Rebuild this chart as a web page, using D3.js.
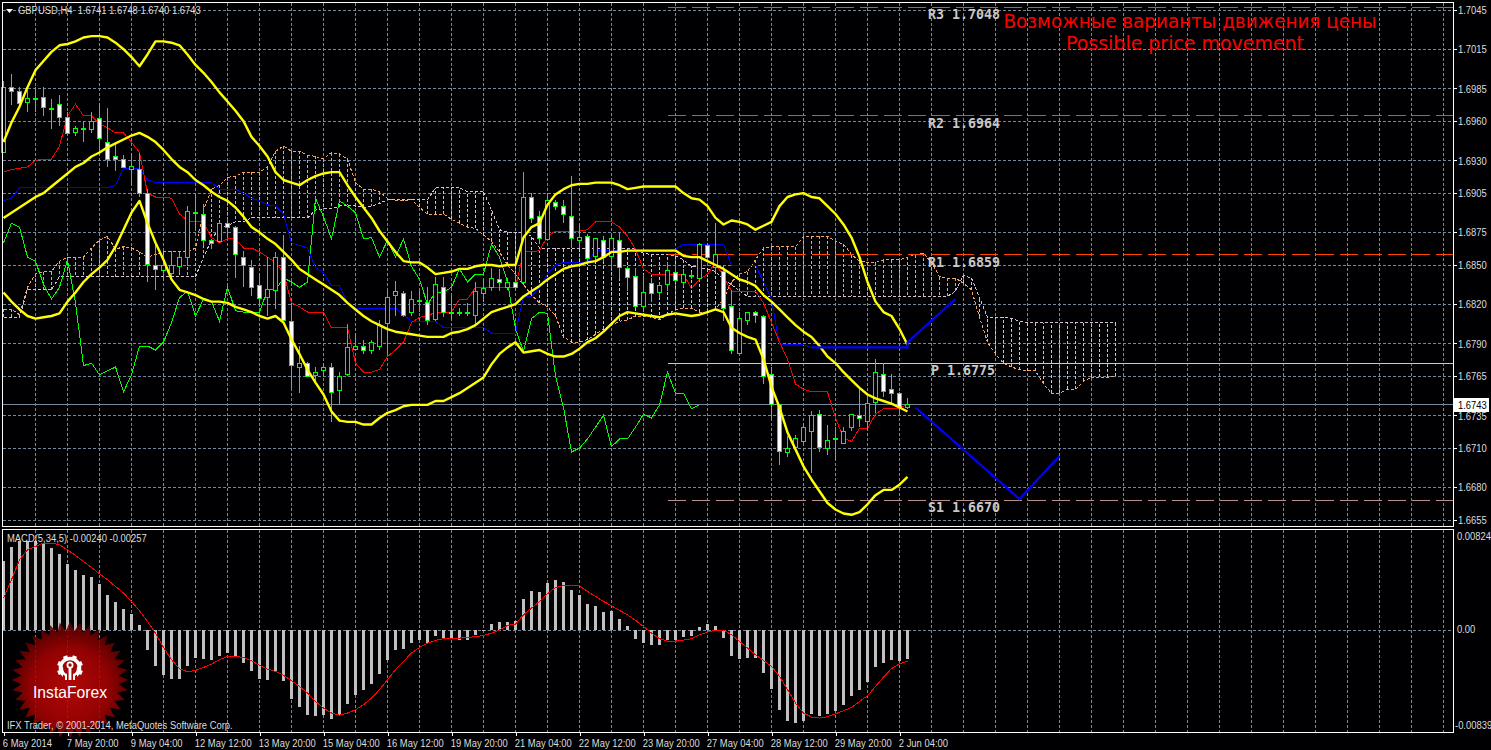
<!DOCTYPE html>
<html><head><meta charset="utf-8">
<style>html,body{margin:0;padding:0;background:#000;overflow:hidden}svg{display:block}text{font-family:"Liberation Sans",Arial,sans-serif}</style>
<script src="https://cdn.jsdelivr.net/npm/d3@7"></script>
</head><body><div id="c"></div>
<script>
// Prices are in pips (1.6741 = 16741), MACD values in 0.00001 units.
const open=[16936,16986,16983,16974,16977,16978,16970,16973,16963,16951,
16954,16954,16962,16944,16933,16931,16923,16923,16905,16850,
16846,16844,16849,16856,16890,16889,16869,16868,16882,16879,
16856,16848,16834,16825,16831,16856,16807,16772,16775,16766,
16770,16772,16754,16766,16786,16788,16785,16788,16805,16827,
16828,16814,16823,16821,16808,16833,16814,16814,16814,16812,
16828,16833,16839,16833,16837,16837,16902,16887,16869,16898,
16895,16887,16869,16872,16856,16869,16856,16869,16847,16841,
16818,16836,16829,16835,16844,16837,16842,16840,16865,16848,
16845,16818,16782,16808,16814,16811,16766,16743,16707,16710,
16715,16723,16736,16710,16717,16714,16726,16735,16730,16745,
16766,16755,16752,16741];
const high=[16991,16996,16986,16984,16986,16986,16977,16980,16967,16956,
16960,16967,16974,16970,16944,16934,16936,16936,16908,16867,
16858,16861,16860,16895,16904,16897,16870,16883,16886,16880,
16861,16854,16844,16856,16860,16873,16821,16788,16776,16772,
16775,16775,16768,16805,16798,16793,16793,16808,16831,16838,
16830,16830,16830,16833,16841,16841,16826,16817,16821,16837,
16839,16848,16847,16840,16843,16921,16905,16891,16905,16900,
16900,16918,16881,16874,16871,16872,16874,16875,16849,16848,
16843,16840,16837,16852,16849,16847,16845,16867,16867,16882,
16849,16831,16814,16814,16815,16812,16772,16743,16719,16720,
16729,16738,16739,16728,16726,16726,16736,16757,16751,16778,
16775,16767,16753,16748];
const low=[16936,16972,16971,16967,16967,16964,16954,16956,16950,16949,
16944,16951,16933,16925,16922,16925,16911,16902,16837,16831,
16838,16839,16844,16849,16876,16865,16862,16867,16871,16840,
16833,16826,16818,16811,16816,16807,16756,16752,16764,16760,
16764,16730,16743,16765,16785,16782,16782,16785,16783,16811,
16810,16811,16814,16804,16807,16810,16808,16811,16811,16803,
16822,16830,16830,16831,16830,16836,16882,16866,16869,16892,
16882,16863,16863,16853,16852,16852,16847,16839,16830,16817,
16814,16822,16825,16830,16836,16833,16839,16837,16856,16845,
16807,16782,16782,16804,16806,16759,16732,16697,16703,16709,
16713,16691,16707,16705,16701,16713,16723,16726,16724,16737,
16749,16743,16737,16740];
const close=[16986,16983,16974,16977,16977,16970,16970,16963,16951,16954,
16954,16960,16947,16931,16931,16925,16925,16905,16851,16847,
16850,16850,16856,16891,16890,16869,16867,16882,16879,16858,
16850,16833,16824,16831,16856,16808,16773,16775,16765,16768,
16772,16753,16765,16787,16788,16785,16791,16804,16825,16830,
16811,16824,16823,16807,16835,16814,16814,16814,16814,16830,
16832,16840,16837,16837,16833,16902,16886,16870,16899,16895,
16889,16870,16871,16855,16870,16856,16870,16848,16840,16818,
16829,16828,16834,16846,16838,16843,16842,16866,16856,16858,
16817,16784,16809,16814,16812,16765,16743,16707,16710,16717,
16726,16735,16711,16716,16717,16723,16736,16733,16744,16768,
16753,16752,16741,16743];
const bbUpper=[16944,16959,16971,16986,16999,17006,17013,17018,17019,17021,
17024,17025,17025,17024,17020,17015,17009,17002,17011,17021,
17021,17020,17018,17011,17003,16997,16990,16982,16975,16968,
16960,16948,16941,16933,16921,16915,16913,16911,16915,16918,
16920,16921,16921,16911,16902,16894,16886,16876,16868,16860,
16853,16852,16852,16848,16843,16844,16845,16847,16847,16849,
16850,16850,16849,16850,16850,16871,16879,16882,16896,16904,
16908,16911,16912,16912,16913,16913,16913,16911,16908,16909,
16910,16910,16910,16910,16910,16905,16901,16900,16895,16886,
16881,16884,16883,16881,16877,16880,16883,16895,16902,16904,
16905,16902,16901,16895,16889,16881,16871,16856,16837,16822,
16814,16811,16801,16789];
const bbMiddle=[16886,16890,16894,16898,16902,16905,16910,16915,16920,16925,
16928,16933,16936,16940,16943,16946,16949,16951,16948,16944,
16938,16931,16925,16921,16915,16911,16906,16902,16899,16894,
16887,16879,16875,16870,16866,16860,16854,16847,16843,16839,
16835,16831,16827,16821,16816,16811,16807,16804,16801,16799,
16798,16797,16796,16795,16795,16795,16798,16799,16801,16804,
16809,16814,16816,16818,16820,16826,16830,16834,16839,16843,
16847,16849,16850,16852,16853,16856,16860,16860,16861,16861,
16861,16861,16861,16861,16861,16857,16856,16856,16853,16850,
16847,16843,16839,16837,16834,16827,16822,16816,16810,16804,
16799,16795,16788,16780,16775,16768,16762,16756,16751,16748,
16746,16744,16741,16738];
const bbLower=[16829,16822,16816,16811,16809,16810,16811,16813,16822,16829,
16837,16843,16848,16854,16864,16877,16890,16899,16882,16867,
16854,16839,16831,16829,16827,16824,16822,16822,16821,16818,
16816,16814,16811,16809,16811,16806,16793,16782,16770,16760,
16751,16738,16731,16730,16730,16728,16728,16733,16737,16739,
16742,16743,16743,16743,16746,16746,16749,16752,16756,16760,
16764,16774,16782,16787,16791,16783,16784,16785,16782,16780,
16780,16782,16786,16791,16794,16799,16805,16811,16814,16813,
16812,16811,16810,16812,16813,16812,16811,16812,16814,16816,
16814,16802,16798,16795,16793,16778,16757,16741,16722,16709,
16696,16686,16677,16668,16663,16660,16659,16661,16667,16674,
16678,16678,16682,16688];
const tenkan=[16921,16923,16924,16925,16930,16931,16931,16941,16964,16973,
16964,16964,16958,16955,16951,16951,16944,16936,16905,16902,
16902,16901,16889,16884,16883,16883,16871,16867,16870,16870,
16863,16863,16860,16856,16852,16844,16821,16818,16814,16814,
16814,16802,16802,16802,16775,16768,16768,16770,16780,16785,
16791,16806,16810,16811,16814,16814,16814,16824,16824,16833,
16833,16833,16833,16833,16833,16860,16860,16861,16872,16876,
16876,16876,16876,16877,16883,16883,16883,16879,16872,16862,
16847,16843,16843,16843,16843,16843,16832,16839,16843,16852,
16841,16830,16830,16830,16830,16821,16806,16791,16778,16759,
16755,16753,16753,16753,16733,16718,16715,16725,16725,16736,
16740,16740,16740,16744];
const kijun=[16899,16901,16909,16909,16909,16909,16909,16909,16909,16909,
16909,16909,16909,16909,16911,16924,16924,16924,16915,16913,
16913,16913,16913,16913,16913,16913,16913,16908,16908,16908,
16905,16901,16899,16896,16895,16889,16867,16865,16863,16848,
16844,16834,16834,16821,16817,16817,16817,16817,16817,16817,
16812,16807,16807,16807,16807,16802,16802,16802,16802,16802,
16802,16798,16798,16798,16798,16826,16826,16833,16843,16850,
16852,16852,16852,16852,16861,16861,16861,16861,16861,16861,
16861,16861,16861,16861,16862,16866,16866,16866,16866,16866,
16866,16850,16850,16850,16850,16837,16824,16789,16789,16789,
16789,16787,16787,16787,16787,16787,16787,16787,16787,16787,
16787,16787,16787,16787];
const chikou=[16867,16882,16879,16856,16853,16835,16824,16833,16854,16821,
16773,16775,16766,16769,16772,16753,16766,16788,16788,16785,
16791,16806,16825,16830,16811,16824,16822,16807,16833,16815,
16814,16814,16814,16831,16831,16840,16837,16833,16837,16901,
16887,16870,16899,16895,16890,16870,16871,16856,16869,16856,
16870,16849,16839,16820,16829,16829,16833,16847,16837,16843,
16843,16866,16856,16837,16801,16784,16809,16814,16813,16765,
16741,16707,16710,16717,16726,16735,16711,16717,16717,16726,
16736,16733,16743,16768,16752,16752,16740,16743];
const spanA=[16816,16816,16812,16833,16843,16845,16845,16853,16856,16856,
16856,16863,16869,16872,16862,16864,16863,16860,16856,16858,
16860,16860,16860,16860,16863,16892,16908,16911,16917,16918,
16921,16921,16921,16925,16937,16941,16937,16937,16934,16933,
16931,16936,16935,16931,16913,16908,16908,16906,16901,16899,
16899,16900,16894,16889,16889,16889,16885,16882,16879,16878,
16873,16868,16860,16850,16843,16835,16827,16821,16818,16811,
16795,16791,16791,16793,16797,16801,16804,16807,16808,16811,
16811,16810,16808,16812,16816,16817,16817,16814,16814,16816,
16824,16837,16843,16845,16854,16863,16864,16864,16864,16864,
16872,16872,16872,16872,16868,16866,16858,16853,16852,16852,
16854,16854,16854,16856,16858,16859,16852,16841,16840,16840,
16836,16831,16810,16791,16782,16775,16772,16770,16769,16769,
16759,16752,16752,16755,16755,16761,16764,16764,16764,16765];
const spanB=[16810,16810,16810,16831,16831,16831,16831,16841,16841,16841,
16841,16841,16841,16841,16841,16841,16841,16841,16841,16841,
16841,16841,16841,16841,16841,16856,16869,16879,16880,16883,
16883,16886,16886,16886,16886,16886,16886,16886,16886,16892,
16893,16893,16895,16896,16895,16894,16895,16897,16900,16900,
16900,16900,16900,16900,16909,16909,16909,16909,16906,16906,
16906,16892,16877,16875,16875,16875,16872,16863,16863,16863,
16863,16863,16863,16863,16863,16863,16863,16863,16863,16862,
16859,16858,16858,16858,16857,16854,16849,16848,16847,16845,
16839,16835,16830,16826,16826,16826,16826,16826,16826,16826,
16826,16826,16826,16826,16826,16826,16826,16826,16826,16826,
16826,16826,16826,16826,16826,16826,16826,16826,16826,16830,
16842,16840,16825,16810,16810,16810,16809,16807,16806,16806,
16806,16806,16806,16806,16806,16806,16806,16806,16806,16806];
const macdBars=[565,683,730,735,735,711,675,626,543,497,
456,439,381,291,230,176,134,44,-162,-294,
-368,-401,-401,-294,-230,-239,-244,-211,-189,-222,
-269,-335,-401,-409,-346,-423,-565,-637,-697,-711,
-697,-730,-697,-606,-532,-491,-442,-359,-244,-162,
-154,-104,-82,-104,-47,-66,-71,-80,-80,-41,
-5,52,66,66,77,258,324,316,390,414,
398,332,291,217,200,151,159,93,36,-71,
-104,-121,-121,-80,-80,-55,-47,25,52,36,
-63,-211,-236,-228,-230,-351,-483,-656,-746,-763,
-746,-689,-705,-689,-664,-615,-541,-491,-428,-302,
-269,-244,-252,-240];
const macdSignal=[263,414,579,661,689,716,716,702,661,615,
565,516,464,414,359,305,236,159,71,-25,
-143,-244,-318,-343,-332,-307,-280,-244,-217,-217,
-225,-252,-291,-321,-340,-373,-417,-464,-519,-587,
-642,-683,-700,-683,-656,-615,-560,-491,-409,-327,
-258,-189,-143,-107,-85,-71,-66,-66,-60,-55,
-44,-25,0,38,49,126,181,236,299,351,
365,370,365,318,277,236,200,162,126,80,
30,-25,-71,-91,-91,-82,-71,-38,-16,0,
0,-38,-93,-148,-203,-250,-299,-381,-491,-601,
-683,-716,-724,-713,-689,-664,-637,-587,-541,-464,
-387,-318,-277,-257];
const priceTicks=[17045,17015,16985,16960,16930,16905,16875,16850,16820,16790,16765,16735,16710,16680,16655];
const timeLabels=["6 May 2014","7 May 20:00","9 May 04:00","12 May 12:00","13 May 20:00","15 May 04:00","16 May 12:00","19 May 20:00","21 May 04:00","22 May 12:00","23 May 20:00","27 May 04:00","28 May 12:00","29 May 20:00","2 Jun 04:00"];
const levelNames=["R3 1.7048","R2 1.6964","R1 1.6859","P 1.6775","S1 1.6670"];
const levelPrices=[17047,16964,16858,16775,16670];
const levelColors=["#ff4500","#ff4500","#ff4500","#ffd700","#bc8f8f"];
const forecastUpIdx=[101,113,113,119], forecastUpVal=[16787,16787,16791,16824];
const forecastDownIdx=[114,127,132], forecastDownVal=[16741,16671,16704];
const lastPrice=16743;

const W=1491,H=750;
const svg=d3.select('#c').append('svg').attr('width',W).attr('height',H);
svg.append('rect').attr('width',W).attr('height',H).attr('fill','#000003');
const x=d3.scaleLinear().domain([0,180]).range([3.5,1443.5]);
const y=d3.scaleLinear().domain([16655,17045]).range([520,10]);
const ym=d3.scaleLinear().domain([-839,824]).range([732,530]);
const snap=v=>Math.round(v-.5)+.5;
const GRID='#778899', TXT='#dcdcdc', FS='11.5px';

// grid
const grid=svg.append('g').attr('stroke',GRID).attr('stroke-dasharray','3,2').attr('shape-rendering','crispEdges').attr('fill','none');
grid.selectAll('.v').data(d3.range(0,181,4).slice(1)).join('line').attr('x1',d=>x(d)).attr('x2',d=>x(d)).attr('y1',3).attr('y2',526);
grid.selectAll('.m').data(d3.range(0,181,4).slice(1)).join('line').attr('x1',d=>x(d)).attr('x2',d=>x(d)).attr('y1',530).attr('y2',732);
grid.selectAll('.h').data(priceTicks).join('line').attr('x1',3).attr('x2',1453).attr('y1',d=>snap(y(d))).attr('y2',d=>snap(y(d)));
grid.append('line').attr('x1',3).attr('x2',1453).attr('y1',snap(ym(0))).attr('y2',snap(ym(0)));

// cloud
const cloud=svg.append('g').attr('fill','none').attr('stroke-width',1).attr('shape-rendering','crispEdges');
cloud.selectAll('line').data(d3.range(spanA.length)).join('line')
 .attr('x1',i=>x(i)).attr('x2',i=>x(i)).attr('y1',i=>y(spanA[i])).attr('y2',i=>y(spanB[i]))
 .attr('stroke',i=>spanA[i]>=spanB[i]?'#f4a460':'#d8bfd8').attr('stroke-dasharray','3,2');
const ln=(s)=>d3.line().x((d,i)=>x(i)).y(d=>y(d))(s);
svg.append('path').attr('d',ln(spanA)).attr('fill','none').attr('stroke','#f4a460').attr('stroke-dasharray','3,2').attr('shape-rendering','crispEdges');
svg.append('path').attr('d',ln(spanB)).attr('fill','none').attr('stroke','#d8bfd8').attr('stroke-dasharray','3,2').attr('shape-rendering','crispEdges');

// levels
const lev=svg.append('g').attr('shape-rendering','crispEdges');
levelPrices.forEach((p,k)=>{
  lev.append('line').attr('x1',x(83)).attr('x2',1453).attr('y1',snap(y(p))).attr('y2',snap(y(p)))
   .attr('stroke',levelColors[k]).attr('stroke-dasharray',k===3?null:'18,6');
});
// current price
svg.append('line').attr('x1',3).attr('x2',1453).attr('y1',snap(y(lastPrice))).attr('y2',snap(y(lastPrice))).attr('stroke',GRID).attr('shape-rendering','crispEdges');

// ichimoku thin lines
[[chikou,'#00ff00'],[kijun,'#0000ff'],[tenkan,'#ff0000']].forEach(([s,c])=>{
  svg.append('path').attr('d',ln(s)).attr('fill','none').attr('stroke',c).attr('stroke-width',1).attr('shape-rendering','crispEdges');
});

// candles
const cg=svg.append('g').attr('shape-rendering','crispEdges').attr('stroke','#00ff00');
const idx=d3.range(open.length);
cg.selectAll('.w').data(idx).join('line').attr('x1',i=>x(i)).attr('x2',i=>x(i)).attr('y1',i=>y(high[i])).attr('y2',i=>y(low[i]));
cg.selectAll('.b').data(idx).join('rect')
 .attr('x',i=>x(i)-2).attr('width',4)
 .attr('y',i=>snap(y(Math.max(open[i],close[i]))))
 .attr('height',i=>Math.max(1,Math.round(Math.abs(y(open[i])-y(close[i])))))
 .attr('fill',i=>close[i]>=open[i]?'#000003':'#ffffff');

// bollinger
[bbUpper,bbMiddle,bbLower].forEach(s=>{
  svg.append('path').attr('d',ln(s)).attr('fill','none').attr('stroke','#ffff00').attr('stroke-width',2.4).attr('stroke-linejoin','round');
});

// forecast
const fl=d3.line().x(d=>x(d[0])).y(d=>y(d[1]));
[d3.zip(forecastUpIdx,forecastUpVal),d3.zip(forecastDownIdx,forecastDownVal)].forEach(s=>{
  svg.append('path').attr('d',fl(s)).attr('fill','none').attr('stroke','#0000ff').attr('stroke-width',2.2);
});

// level labels
const mono=svg.append('g').attr('fill','#c8c8c8').attr('font-weight','bold').style('font-size','13.3px');
const labelX=[928,928,928,931,928];
levelNames.forEach((t,k)=>{
  mono.append('text').attr('x',labelX[k]).attr('y',y(levelPrices[k])+12).style('font-family','"DejaVu Sans Mono",monospace').text(t);
});

// headline
svg.append('text').attr('x',1190).attr('y',28).attr('text-anchor','middle').attr('fill','#ff0000').attr('textLength',373).attr('lengthAdjust','spacingAndGlyphs').style('font-size','20px').style('font-family','"DejaVu Sans"').text('Возможные варианты движения цены');
svg.append('text').attr('x',1185).attr('y',50).attr('text-anchor','middle').attr('fill','#ff0000').attr('textLength',238).attr('lengthAdjust','spacingAndGlyphs').style('font-size','20px').style('font-family','"DejaVu Sans"').text('Possible price movement');

// macd
const mg=svg.append('g');
mg.selectAll('rect').data(macdBars).join('rect').attr('x',(d,i)=>x(i)-1.5).attr('width',3)
 .attr('y',d=>Math.min(ym(d),ym(0))).attr('height',d=>Math.abs(ym(d)-ym(0))).attr('fill','#c0c0c0').attr('shape-rendering','crispEdges');
svg.append('path').attr('d',d3.line().x((d,i)=>x(i)).y(d=>ym(d))(macdSignal)).attr('fill','none').attr('stroke','#ff0000').attr('stroke-width',1).attr('shape-rendering','crispEdges');

// logo, translucent over the pane
const defs=svg.append('defs');
const grad=defs.append('radialGradient').attr('id','lg').attr('cx','50%').attr('cy','56%').attr('r','55%');
grad.append('stop').attr('offset','0').attr('stop-color','#c80808');
grad.append('stop').attr('offset','.6').attr('stop-color','#a60202');
grad.append('stop').attr('offset','1').attr('stop-color','#560000');
const logo=svg.append('g').attr('transform','translate(70,680)');
const spikes=d3.range(72).map(k=>[k*Math.PI/36,k%2?49:58.5]);
logo.append('path').attr('d',d3.lineRadial().curve(d3.curveLinearClosed)(spikes)).attr('fill','url(#lg)').attr('opacity',.88);
const gear=logo.append('g').attr('transform','translate(0,-12)');
d3.range(8).forEach(k=>gear.append('rect').attr('x',-2.2).attr('y',-13).attr('width',4.4).attr('height',5).attr('fill','#fff').attr('transform','rotate('+(k*45+22.5)+')'));
gear.append('circle').attr('r',9.5).attr('fill','none').attr('stroke','#fff').attr('stroke-width',3.6);
gear.append('rect').attr('x',-7).attr('y',5).attr('width',14).attr('height',9).attr('fill','#b00404');
gear.append('circle').attr('cy',-3).attr('r',2.6).attr('fill','none').attr('stroke','#fff').attr('stroke-width',1.8);
gear.append('rect').attr('x',-1.4).attr('y',-1).attr('width',2.8).attr('height',13).attr('fill','#fff');
gear.append('path').attr('d','M-7,-1Q-7,5-3,6V12H-5V8Q-9,6-9,-1Z M7,-1Q7,5,3,6V12H5V8Q9,6,9,-1Z').attr('fill','#fff');
logo.append('text').attr('y',18).attr('text-anchor','middle').attr('fill','#fff').attr('textLength',74).attr('lengthAdjust','spacingAndGlyphs').style('font-size','16.5px').text('InstaForex');

// frames
const fr=svg.append('g').attr('fill','none').attr('stroke','#fff').attr('shape-rendering','crispEdges');
fr.append('path').attr('d','M2.5,2.5H1453.5V526.5H2.5Z');
fr.append('path').attr('d','M2.5,529.5H1453.5V732.5H2.5Z');

// axes
const styleAxis=g=>{g.select('.domain').remove();g.selectAll('line').attr('stroke','#fff').attr('shape-rendering','crispEdges');
  g.selectAll('text').attr('fill',TXT).style('font-size',FS);};
svg.append('g').attr('transform','translate(1453.5,0)')
 .call(d3.axisRight(y).tickValues(priceTicks).tickSize(3).tickPadding(1.5).tickFormat(d=>(d/10000).toFixed(4))).call(styleAxis);
svg.append('g').attr('transform','translate(0,732.5)')
 .call(d3.axisBottom(x).tickValues(timeLabels.map((d,k)=>k*8)).tickSize(3).tickPadding(3).tickFormat(d=>timeLabels[d/8])).call(styleAxis)
 .selectAll('text').attr('text-anchor','start').attr('dx',-1.5);
const macdLabels=[[824,"0.00824",6,1457],[0,"0.00",-1,1457],[-839,"-0.00839",-7,1455]];
macdLabels.forEach(([v,t,o,lx])=>svg.append('text').attr('x',lx).attr('y',ym(v)+o+4).attr('fill',TXT).style('font-size',FS).text(t));

// last price tag
svg.append('rect').attr('x',1454).attr('y',398).attr('width',35).attr('height',14).attr('fill','#fff');
svg.append('text').attr('x',1458).attr('y',409).attr('fill','#000').style('font-size',FS).text((lastPrice/10000).toFixed(4));

// headers
svg.append('path').attr('d','M6,9H13L9.5,13Z').attr('fill','#fff');
svg.append('text').attr('x',18).attr('y',14).attr('fill',TXT).style('font-size',FS).text('GBPUSD,H4\u00a0\u00a01.6741 1.6748 1.6740 1.6743');
svg.append('text').attr('x',7).attr('y',542).attr('fill',TXT).style('font-size',FS).text('MACD(5,34,5) -0.00240 -0.00257');
svg.append('text').attr('x',7).attr('y',729).attr('fill',TXT).style('font-size',FS).text('IFX Trader, © 2001-2014, MetaQuotes Software Corp.');

// the small labels are set tighter than the sans-serif's natural width
svg.selectAll('text').filter(function(){return this.style.fontSize===FS;}).each(function(){
  const x0=+this.getAttribute('x')||0, y0=+this.getAttribute('y')||0;
  this.setAttribute('x',0);
  this.setAttribute('transform','translate('+x0+','+y0+') scale(0.82,1)');
  this.setAttribute('y',0);
});
</script></body></html>
